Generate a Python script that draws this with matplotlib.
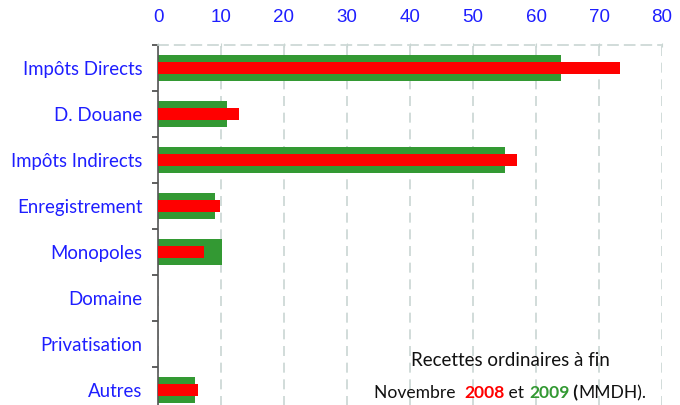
import matplotlib
matplotlib.use("Agg")
import matplotlib.pyplot as plt
import numpy as np

categories = ["Impôts Directs", "D. Douane", "Impôts Indirects", "Enregistrement",
              "Monopoles", "Domaine", "Privatisation", "Autres"]
vals_2009 = [63.9, 10.9, 55.1, 9.0, 10.1, 0, 0, 5.8]
vals_2008 = [73.4, 12.8, 57.0, 9.8, 7.3, 0, 0, 6.4]
xticks = [0, 10, 20, 30, 40, 50, 60, 70, 80]

GREEN = "#339933"
RED = "#FF0000"
BLUE = "#1E1EFF"
GRID = "#C9D6D3"

fig = plt.figure(figsize=(6.8, 4.05), dpi=100)
ax = fig.add_axes([158/680, (405-413)/405, (662-158)/680, (413-45)/405])

y = np.arange(len(categories))
ax.barh(y, vals_2009, height=0.57, color=GREEN, zorder=2)
ax.barh(y, vals_2008, height=0.27, color=RED, zorder=3)

ax.set_xlim(0, 80)
ax.set_ylim(len(categories) - 0.5, -0.5)
ax.xaxis.tick_top()
ax.set_xticks(xticks)
ax.set_xticklabels([str(t) for t in xticks], color=BLUE, family="Liberation Sans", fontsize=13.5)
ax.tick_params(axis="x", length=3, direction="inout", color=GRID, pad=12)
ax.grid(axis="x", linestyle=(0, (6, 4)), color=GRID, linewidth=1.2, zorder=0)

ax.set_yticks(y)
ax.set_yticklabels(categories, color=BLUE, family="Lato", fontsize=13.4)
ax.tick_params(axis="y", length=0, pad=11)
ax.set_yticks(np.arange(len(categories) + 1) - 0.5, minor=True)
ax.tick_params(axis="y", which="minor", length=4, color="#444444", width=1.2)

for s in ["right", "bottom"]:
    ax.spines[s].set_visible(False)
ax.spines["top"].set_linestyle((0, (6, 4)))
ax.spines["top"].set_color(GRID)
ax.spines["top"].set_linewidth(1.2)
ax.spines["left"].set_color("#555555")
ax.spines["left"].set_linewidth(1.2)

# annotation
fam = "Lato"
fig.text(510/680, 1 - 361/405, "Recettes ordinaires à fin", ha="center", va="center",
         fontsize=13.5, family=fam, color="#111111")
fs2 = 12.6
pieces = [("Novembre  ", "#111111", "normal"), ("2008", RED, "bold"), (" et ", "#111111", "normal"),
          ("2009", GREEN, "bold"), (" (", "#111111", "bold"), ("MMDH).", "#111111", "normal")]
fig.canvas.draw()
r = fig.canvas.get_renderer()
texts = []
widths = []
for s, c, w in pieces:
    t = fig.text(0, 1 - 393/405, s, ha="left", va="center", fontsize=fs2, family=fam, color=c, fontweight=w)
    bb = t.get_window_extent(renderer=r)
    texts.append(t)
    widths.append(bb.width)
total = sum(widths)
x0 = 510 - total / 2
for t, w in zip(texts, widths):
    t.set_x(x0 / 680)
    x0 += w

fig.savefig("out.png", dpi=100)
